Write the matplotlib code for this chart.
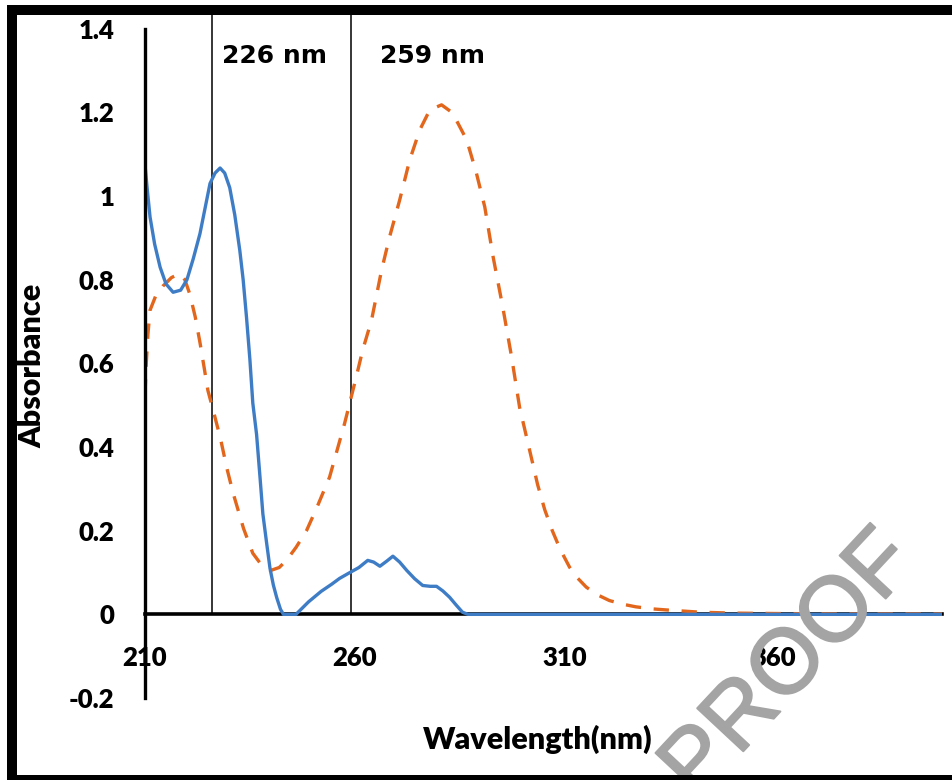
import matplotlib
matplotlib.use("Agg")
import matplotlib.pyplot as plt
from matplotlib.patches import Rectangle
import matplotlib.patheffects as pe

# ---- data ----
blue_x = [210, 210.5, 211.2, 212.3, 213.6, 215, 216.7, 218.5, 220, 221.5, 223.1, 224.3,
          225.5, 226.7, 227.9, 229, 230.2, 231.4, 232.6, 233.4, 234.2, 235, 235.7, 236.6,
          237.4, 238.1, 239, 239.8, 240.6, 241.4, 242.3, 243, 246, 249, 252, 254.5,
          256.4, 258.5, 261, 263.1, 264.5, 266, 267.6, 269.1, 270.7, 272.4, 274.3, 276.2,
          278, 279.5, 281, 282.6, 284.2, 285.7, 287, 300, 350, 400]
blue_y = [1.074, 1.02, 0.95, 0.885, 0.83, 0.79, 0.77, 0.775, 0.80, 0.85, 0.91, 0.97,
          1.03, 1.055, 1.067, 1.055, 1.02, 0.955, 0.87, 0.80, 0.71, 0.61, 0.505, 0.43,
          0.33, 0.24, 0.17, 0.11, 0.07, 0.04, 0.012, 0.0, 0.0, 0.03, 0.055, 0.072,
          0.086, 0.098, 0.112, 0.129, 0.125, 0.115, 0.127, 0.139, 0.125, 0.105, 0.085, 0.069,
          0.067, 0.067, 0.056, 0.041, 0.022, 0.005, 0.0, 0.0, 0.0, 0.0]

orange_x = [210, 210.3, 210.7, 211.2, 212.5, 214.3, 216.3, 218.3, 219.5, 220.7, 222,
            223.1, 224.1, 225, 226.2, 228, 229.5, 231, 233.5, 235.7, 238, 240, 242,
            243.8, 246, 248.5, 251, 254, 257.6, 258.8, 260.3, 261.9, 264, 266.4, 268.3,
            270.7, 273.1, 275.5, 277.9, 280.7, 283.3, 286.7, 289, 291, 293, 295.3,
            297.4, 299.3, 301.7, 303.6, 305.3, 307.1, 309, 311.2, 313, 315.2, 318,
            320.7, 324, 327, 331, 335, 342.6, 350, 360, 375, 390, 400]
orange_y = [0.525, 0.60, 0.67, 0.727, 0.76, 0.785, 0.805, 0.815, 0.80, 0.765, 0.71,
            0.65, 0.59, 0.535, 0.49, 0.42, 0.35, 0.29, 0.205, 0.146, 0.115, 0.105, 0.112,
            0.13, 0.16, 0.20, 0.256, 0.328, 0.457, 0.505, 0.565, 0.632, 0.703, 0.823, 0.902,
            0.99, 1.086, 1.158, 1.206, 1.218, 1.199, 1.134, 1.055, 0.974, 0.854, 0.734,
            0.615, 0.495, 0.392, 0.31, 0.25, 0.20, 0.155, 0.113, 0.088, 0.065, 0.046,
            0.033, 0.024, 0.018, 0.013, 0.01, 0.005, 0.003, 0.002, 0.001, 0.001, 0.001]

marker_lines = [226, 259]
marker_labels = ["226 nm", "259 nm"]
label_x = [228.3, 266.0]
x_ticks = [210, 260, 310, 360]
y_ticks = [-0.2, 0, 0.2, 0.4, 0.6, 0.8, 1.0, 1.2, 1.4]
y_tick_labels = ["-0.2", "0", "0.2", "0.4", "0.6", "0.8", "1", "1.2", "1.4"]

W, H = 953, 780
fig = plt.figure(figsize=(W / 100, H / 100), dpi=100)
fig.patch.set_facecolor("white")

def fx(px):
    return px / W

def fy(py):
    return 1 - py / H

ax = fig.add_axes([fx(145), fy(698), fx(942) - fx(145), fy(12) - fy(698)])
ax.set_xlim(210, 400)
ax.set_ylim(-0.2, 1.44)
ax.patch.set_alpha(0)

for s in ["top", "right"]:
    ax.spines[s].set_visible(False)
ax.spines["left"].set_bounds(-0.2, 1.4)
ax.spines["left"].set_linewidth(2.4)
ax.spines["bottom"].set_position(("data", 0))
ax.spines["bottom"].set_linewidth(2.6)
ax.spines["left"].set_zorder(5)
ax.spines["bottom"].set_zorder(1)

for xv in marker_lines:
    ax.plot([xv, xv], [0, 1.44], color="black", lw=1.1, zorder=2, clip_on=False)

ax.plot(blue_x, blue_y, color="#3E7DC6", lw=2.4, zorder=4,
        solid_capstyle="round", solid_joinstyle="round")
ax.plot(orange_x, orange_y, color="#E2661B", lw=2.4, dashes=(4.6, 3.8), zorder=3)

ax.set_xticks(x_ticks)
ax.set_xticklabels([str(v) for v in x_ticks])
ax.set_yticks(y_ticks)
ax.set_yticklabels(y_tick_labels)
ax.tick_params(axis="both", length=0)
ax.tick_params(axis="x", pad=23)
ax.tick_params(axis="y", pad=22)
for lab in ax.get_xticklabels() + ax.get_yticklabels():
    lab.set_fontfamily("Lato")
    lab.set_fontweight("heavy")
    lab.set_fontsize(18.5)

for lx, txt in zip(label_x, marker_labels):
    ax.text(lx, 1.335, txt, fontsize=18, fontweight="bold", family="DejaVu Sans",
            ha="left", va="center", color="black")

fig.text(fx(538), fy(739), "Wavelength(nm)", fontsize=22, fontweight="heavy",
         family="Lato", ha="center", va="center")
fig.text(fx(32), fy(366), "Absorbance", fontsize=22, fontweight="heavy",
         family="Lato", ha="center", va="center", rotation=90)

# watermark
fig.text(fx(790), fy(666), "PROOF", fontsize=66, family="Liberation Sans",
         color="#A4A4A4", rotation=47, ha="center", va="center", zorder=0.5,
         path_effects=[pe.withStroke(linewidth=1.4, foreground="#A4A4A4")])

# figure border
rect = Rectangle((fx(12), fy(780)), fx(965) - fx(12), fy(10) - fy(780),
                 transform=fig.transFigure, fill=False, edgecolor="black",
                 linewidth=7.2, zorder=10, clip_on=False)
fig.patches.append(rect)

fig.savefig("out.png", dpi=100, facecolor="white")
